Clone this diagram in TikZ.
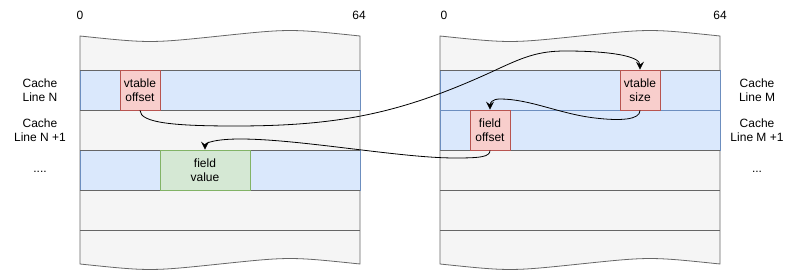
\documentclass[tikz,border=0pt]{standalone}
\usepackage{fontspec}
\setmainfont{Liberation Sans}
\usetikzlibrary{arrows.meta,positioning}
\definecolor{grayFill}{HTML}{F5F5F5}
\definecolor{grayLine}{HTML}{666666}
\definecolor{blueFill}{HTML}{DAE8FC}
\definecolor{blueLine}{HTML}{6C8EBF}
\definecolor{redFill}{HTML}{F8CECC}
\definecolor{redLine}{HTML}{B85450}
\definecolor{greenFill}{HTML}{D5E8D4}
\definecolor{greenLine}{HTML}{82B366}

\begin{document}
\begin{tikzpicture}[
  x=1pt,y=1pt,
  font=\fontsize{12}{14.4}\selectfont,
  line width=0.8pt,
  panel/.style={draw=grayLine,fill=grayFill},
  bluerow/.style={draw=blueLine,fill=blueFill},
  rowline/.style={draw=grayLine},
  ptr/.style={draw=redLine,fill=redFill,inner sep=0pt,
              minimum width=40pt,minimum height=40pt,align=center},
  val/.style={draw=greenLine,fill=greenFill,inner sep=0pt,
              minimum width=90pt,minimum height=40pt,align=center},
  lbl/.style={align=center,inner sep=0pt},
  arr/.style={-{Stealth[length=8pt,width=8pt,inset=3pt]},line width=0.8pt}
]
\useasboundingbox (0,0) rectangle (797,271);
% --- panels (tape shape) ---
\foreach \ox in {80,440}
  \draw[panel] (\ox,235) .. controls ({\ox+70},227.7) .. ({\ox+140},235)
    .. controls ({\ox+210},242.3) .. ({\ox+280},235) -- ({\ox+280},7)
    .. controls ({\ox+210},14.3) .. ({\ox+140},7)
    .. controls ({\ox+70},-0.3) .. (\ox,7) -- cycle;
% --- cache lines ---
\draw[bluerow] (80,161) rectangle (360,201);
\draw[bluerow] (80,81) rectangle (360,121);
\draw[bluerow] (440,161) rectangle (720,201);
\draw[bluerow] (440,121) rectangle (720,161);
\foreach \y in {201,161,121,81,41}
  \draw[rowline] (80,\y) -- (360,\y);
\foreach \y in {201,121,81,41}
  \draw[rowline] (440,\y) -- (720,\y);
% --- fields ---
\node[ptr](voff)  at(140,181){vtable\\offset};
\node[val](fval)  at(205,101){field\\value};
\node[ptr](vsize) at(640,181){vtable\\size};
\node[ptr](foff)  at(490,141){field\\offset};
% --- bit positions ---
\node[lbl](l0)  at(80,256){0};
\node[lbl](l64) at(359,256){64};
\node[lbl](r0)  at(444,256){0};
\node[lbl](r64) at(720,256){64};
% --- line labels ---
\node[lbl](lnN)  at(40,181){Cache\\Line N};
\node[lbl](lnN1) at(40,141){Cache\\Line N +1};
\node[lbl](lnNx) at(40,99){....};
\node[lbl](lnM)  at(757,181){Cache\\Line M};
\node[lbl](lnM1) at(757,141){Cache\\Line M +1};
\node[lbl](lnMx) at(757,99){...};
% --- pointers ---
\draw[arr](voff.south) .. controls (140,148) and (175,145) .. (235,145)
  .. controls (341,145) and (404,158) .. (500,203)
  .. controls (524,214) and (539,220) .. (565,220)
  .. controls (610,220) and (640,215) .. (vsize.north);
\draw[arr](vsize.south) .. controls (640,151) and (620,150) .. (595,153)
  .. controls (560,157) and (530,172) .. (500,172)
  .. controls (492,172) and (490,168) .. (foff.north);
\draw[arr](foff.south) .. controls (490,114) and (480,113) .. (455,113)
  .. controls (400,113) and (300,132) .. (240,132)
  .. controls (215,132) and (205,128) .. (fval.north);
\end{tikzpicture}
\end{document}
